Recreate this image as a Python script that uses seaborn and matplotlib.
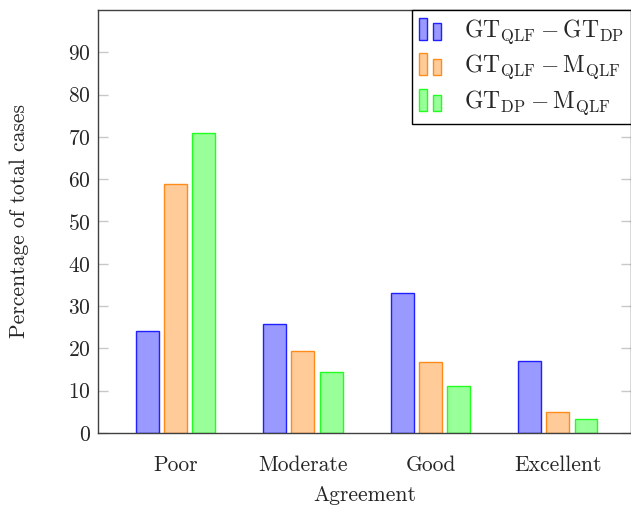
import numpy as np
import pandas as pd
import matplotlib
matplotlib.use("Agg")
import matplotlib.pyplot as plt
from matplotlib.patches import Rectangle
from matplotlib.legend_handler import HandlerBase
import seaborn as sns

# data
categories = ["Poor", "Moderate", "Good", "Excellent"]
gt_qlf_gt_dp = [24.2, 25.8, 33.1, 17.0]
gt_qlf_m_qlf = [58.8, 19.4, 16.9, 4.9]
gt_dp_m_qlf = [70.9, 14.5, 11.2, 3.2]
series_names = [r"$\mathrm{GT}_{\mathrm{QLF}}-\mathrm{GT}_{\mathrm{DP}}$",
                r"$\mathrm{GT}_{\mathrm{QLF}}-\mathrm{M}_{\mathrm{QLF}}$",
                r"$\mathrm{GT}_{\mathrm{DP}}-\mathrm{M}_{\mathrm{QLF}}$"]
y_ticks = [0, 10, 20, 30, 40, 50, 60, 70, 80, 90]

fills = ["#9999ff", "#ffcc99", "#99ff99"]
edges = ["#2020ff", "#ff8c1a", "#20ff20"]

df = pd.DataFrame({
    "Agreement": categories * 3,
    "value": gt_qlf_gt_dp + gt_qlf_m_qlf + gt_dp_m_qlf,
    "series": [series_names[0]] * 4 + [series_names[1]] * 4 + [series_names[2]] * 4,
})

sns.set_style("ticks")
plt.rcParams["font.family"] = ["cmr10", "DejaVu Serif"]
plt.rcParams["mathtext.fontset"] = "cm"
plt.rcParams["axes.formatter.use_mathtext"] = True

FS = 15.5
LFS = 17


class DoubleBar(HandlerBase):
    # pgfplots style ybar legend: two small bars
    def __init__(self, fc, ec):
        super().__init__()
        self.fc = fc
        self.ec = ec

    def create_artists(self, legend, orig_handle, xdescent, ydescent,
                       width, height, fontsize, trans):
        w = width * 0.36
        r1 = Rectangle((-xdescent, -ydescent - 0.2 * height), w, height * 1.35,
                       facecolor=self.fc, edgecolor=self.ec, lw=1.0, transform=trans)
        r2 = Rectangle((-xdescent + width * 0.64, -ydescent - 0.2 * height), w, height * 1.0,
                       facecolor=self.fc, edgecolor=self.ec, lw=1.0, transform=trans)
        return [r1, r2]


fig = plt.figure(figsize=(6.31, 5.05), dpi=100)
ax = fig.add_axes([98 / 631, 72 / 505, 1 - 98 / 631, (433 - 10) / 505])

sns.barplot(data=df, x="Agreement", y="value", hue="series", order=categories,
            hue_order=series_names, palette=fills, width=0.66, gap=0.18,
            saturation=1, legend=False, ax=ax)

for cont, ec in zip(ax.containers, edges):
    for bar in cont:
        bar.set_edgecolor(ec)
        bar.set_linewidth(1.0)

ax.set_xlim(-0.608, 3.573)
ax.set_ylim(0, 100)
ax.set_yticks(y_ticks)
ax.set_xlabel("Agreement", fontsize=FS, labelpad=8)
ax.set_ylabel("Percentage of total cases", fontsize=FS, labelpad=28)
ax.tick_params(axis="y", direction="in", length=7, color="#c8c8c8", width=1.0,
               right=True, labelsize=FS, pad=5)
ax.tick_params(axis="x", length=0, labelsize=FS, pad=16)
for s in ax.spines.values():
    s.set_color("#404040")
    s.set_linewidth(1.0)

handles = [Rectangle((0, 0), 1, 1) for _ in series_names]
leg = ax.legend(handles, series_names, loc="upper right", bbox_to_anchor=(1.0, 1.0),
                borderaxespad=0, fancybox=False, framealpha=1, edgecolor="black",
                fontsize=LFS, handlelength=0.93, handletextpad=0.95, labelspacing=0.3,
                borderpad=0.3,
                handler_map={h: DoubleBar(f, e) for h, f, e in zip(handles, fills, edges)})
leg.get_frame().set_linewidth(1.0)

fig.savefig("out.png", dpi=100)
